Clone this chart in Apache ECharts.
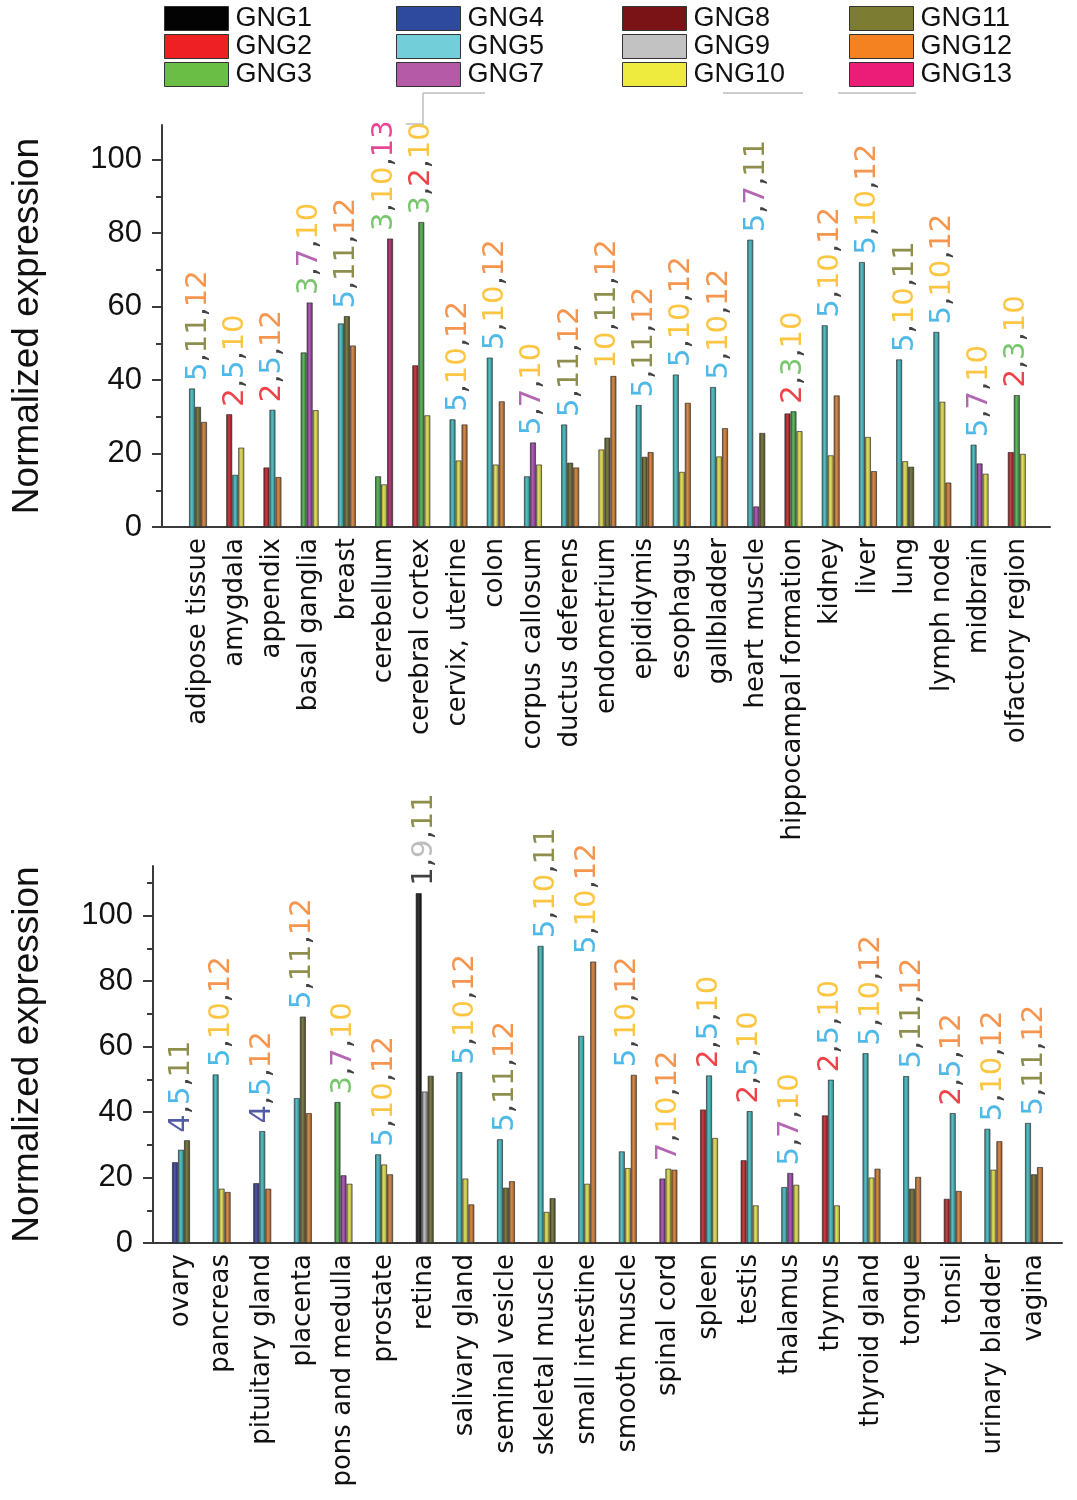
<!DOCTYPE html>
<html><head><meta charset="utf-8">
<script src="https://cdn.jsdelivr.net/npm/echarts@6/dist/echarts.min.js"></script>
<style>html,body{margin:0;padding:0;background:#fff}#c{width:1077px;height:1500px}</style>
</head><body><div id="c"></div>
<script>
// ---------------- DATA ----------------
const topTissues = ['adipose tissue','amygdala','appendix','basal ganglia','breast','cerebellum','cerebral cortex','cervix, uterine','colon','corpus callosum','ductus deferens','endometrium','epididymis','esophagus','gallbladder','heart muscle','hippocampal formation','kidney','liver','lung','lymph node','midbrain','olfactory region'];
const topGenes = [[5,11,12],[2,5,10],[2,5,12],[3,7,10],[5,11,12],[3,10,13],[2,3,10],[5,10,12],[5,10,12],[5,7,10],[5,11,12],[10,11,12],[5,11,12],[5,10,12],[5,10,12],[5,7,11],[2,3,10],[5,10,12],[5,10,12],[5,10,11],[5,10,12],[5,7,10],[2,3,10]];
const topValues = [[37.7,32.7,28.6],[30.7,14.2,21.6],[16.2,31.9,13.6],[47.5,61.1,31.8],[55.4,57.4,49.4],[13.8,11.6,78.5],[44.0,83.0,30.4],[29.3,18.1,27.9],[46.1,17.0,34.2],[13.8,23.0,17.0],[27.9,17.5,16.2],[21.1,24.3,41.1],[33.2,19.1,20.4],[41.5,15.0,33.8],[38.1,19.2,26.9],[78.2,5.6,25.6],[30.9,31.5,26.1],[54.9,19.5,35.8],[72.1,24.5,15.2],[45.6,17.9,16.4],[53.1,34.1,12.1],[22.4,17.3,14.5],[20.4,35.9,19.9]];
const topLabels = ['5,11,12','2,5,10','2,5,12','3,7,10','5,11,12','3,10,13','3,2,10','5,10,12','5,10,12','5,7,10','5,11,12','10,11,12','5,11,12','5,10,12','5,10,12','5,7,11','2,3,10','5,10,12','5,10,12','5,10,11','5,10,12','5,7,10','2,3,10'];

const bottomTissues = ['ovary','pancreas','pituitary gland','placenta','pons and medulla','prostate','retina','salivary gland','seminal vesicle','skeletal muscle','small intestine','smooth muscle','spinal cord','spleen','testis','thalamus','thymus','thyroid gland','tongue','tonsil','urinary bladder','vagina'];
const bottomGenes = [[4,5,11],[5,10,12],[4,5,12],[5,11,12],[3,7,10],[5,10,12],[1,9,11],[5,10,12],[5,11,12],[5,10,11],[5,10,12],[5,10,12],[7,10,12],[2,5,10],[2,5,10],[5,7,10],[2,5,10],[5,10,12],[5,11,12],[2,5,12],[5,10,12],[5,11,12]];
const bottomValues = [[24.7,28.5,31.4],[51.5,16.6,15.6],[18.3,34.2,16.6],[44.3,69.2,39.7],[43.1,20.7,18.1],[27.1,24.0,21.0],[106.9,46.3,51.1],[52.2,19.7,11.8],[31.7,16.9,18.9],[90.8,9.5,13.7],[63.3,18.1,86.0],[28.0,22.9,51.4],[19.7,22.7,22.4],[40.8,51.2,32.1],[25.3,40.3,11.5],[17.1,21.4,17.8],[39.0,49.9,11.5],[58.0,20.0,22.7],[51.0,16.6,20.2],[13.5,39.7,15.9],[34.9,22.4,31.1],[36.7,21.0,23.2]];
const bottomLabels = ['4,5,11','5,10,12','4,5,12','5,11,12','3,7,10','5,10,12','1,9,11','5,10,12','5,11,12','5,10,11','5,10,12','5,10,12','7,10,12','2,5,10','2,5,10','5,7,10','2,5,10','5,10,12','5,11,12','2,5,12','5,10,12','5,11,12'];

const yTickValues = [0,20,40,60,80,100];
const topMinorTicks = [10,30,50,70,90];
const bottomMinorTicks = [10,30,50,70,90,110];
const legendColumns = [['GNG1','GNG2','GNG3'],['GNG4','GNG5','GNG7'],['GNG8','GNG9','GNG10'],['GNG11','GNG12','GNG13']];
const yTitle = 'Normalized expression';

// ---------------- STYLES ----------------
const legendColor = {1:'#030303',2:'#EE2024',3:'#6ABD45',4:'#2E4A9E',5:'#72CFD9',7:'#B45AA6',8:'#7A1315',9:'#C2C2C2',10:'#EFEA3E',11:'#7C7C32',12:'#F58220',13:'#EC1C79'};
const barColor = {1:'#0a0a0a',2:'#B3181E',3:'#3FA33F',4:'#2A3590',5:'#34B0B4',7:'#9C3CA8',9:'#A8A8A8',10:'#D9D63F',11:'#5F5F24',12:'#C87228',13:'#A3195E'};
const labelColor = {1:'#111111',2:'#E8141B',3:'#55B847',4:'#28348F',5:'#22A6E0',7:'#A0409F',9:'#ADADAD',10:'#FDB813',11:'#727320',12:'#F47A20',13:'#E5187A'};

function mix(hex, t){
  const n = parseInt(hex.slice(1),16);
  let r=(n>>16)&255,g=(n>>8)&255,b=n&255;
  const tgt = t>0?255:0, a=Math.abs(t);
  r=Math.round(r+(tgt-r)*a); g=Math.round(g+(tgt-g)*a); b=Math.round(b+(tgt-b)*a);
  return 'rgb('+r+','+g+','+b+')';
}
function grad(c){
  return new echarts.graphic.LinearGradient(0,0,1,0,[
    {offset:0,color:mix(c,-0.35)},{offset:0.45,color:mix(c,0.18)},{offset:1,color:mix(c,-0.3)}]);
}
const rich = {k:{color:'#111',fontFamily:'DejaVu Sans',fontSize:29}};
Object.keys(labelColor).forEach(n=>{ rich['g'+n] = {color:labelColor[n],fontFamily:'DejaVu Sans',fontSize:29}; });
function richLabel(s){ return s.split(',').map(n=>'{g'+n+'|'+n+'}').join('{k|,}'); }

const axisCol = '#3a3a3a';
const grids=[], xAxes=[], yAxes=[], series=[];

function panel(tissues, genes, values, labels, cfg){
  const g0 = grids.length;
  grids.push({left:cfg.frameLeft, top:cfg.top, width:cfg.frameRight-cfg.frameLeft, height:cfg.height, containLabel:false, outerBoundsMode:'none'});
  grids.push({left:cfg.dataLeft, top:cfg.top, width:cfg.dataWidth, height:cfg.height, containLabel:false, outerBoundsMode:'none'});
  const g1 = g0+1;
  const xf = xAxes.length;
  xAxes.push({gridIndex:g0, type:'value', min:0, max:1, axisLine:{show:true,lineStyle:{color:axisCol,width:2}}, axisTick:{show:false}, axisLabel:{show:false}, splitLine:{show:false}});
  xAxes.push({gridIndex:g1, type:'category', data:tissues, axisLine:{show:false}, axisTick:{show:false},
    axisLabel:{rotate:90, interval:0, margin:11, fontFamily:'DejaVu Sans', fontSize:26, color:'#111', hideOverlap:false}});
  const yf = yAxes.length;
  yAxes.push({gridIndex:g0, type:'value', position:'left', offset:0, min:0, max:cfg.max,
    axisLine:{show:true,lineStyle:{color:axisCol,width:2}},
    axisTick:{show:true, customValues:yTickValues, length:10, lineStyle:{color:axisCol,width:2}},
    axisLabel:{customValues:yTickValues, margin:20, fontFamily:'Liberation Sans', fontSize:31, color:'#111'},
    splitLine:{show:false},
    name:yTitle, nameLocation:'middle', nameGap:cfg.nameGap,
    nameTextStyle:{fontFamily:'Liberation Sans', fontSize:37, color:'#111'}});
  yAxes.push({gridIndex:g0, type:'value', position:'left', offset:0, min:0, max:cfg.max,
    axisLine:{show:false}, axisTick:{show:true, customValues:cfg.minor, length:6, lineStyle:{color:axisCol,width:2}},
    axisLabel:{show:false}, splitLine:{show:false}});
  yAxes.push({gridIndex:g1, type:'value', min:0, max:cfg.max, show:false});
  const xd = xf+1, yd = yf+2;
  for(let k=0;k<3;k++){
    series.push({type:'bar', xAxisIndex:xd, yAxisIndex:yd, barWidth:6, barGap:'0%', silent:true,
      itemStyle:{borderColor:'rgba(45,45,45,0.85)', borderWidth:0.8},
      data: values.map((v,i)=>({value:v[k], itemStyle:{color:grad(barColor[genes[i][k]])}}))});
  }
  series.push({type:'scatter', xAxisIndex:xd, yAxisIndex:yd, symbolSize:1, silent:true, z:10,
    itemStyle:{color:'rgba(0,0,0,0)'},
    data: values.map(v=>Math.max.apply(null,v)),
    label:{show:true, position:'top', distance:7, rotate:90, align:'left', verticalAlign:'middle',
      formatter:p=>richLabel(labels[p.dataIndex]), rich:rich}});
  return {xd, yd};
}

const p1 = panel(topTissues, topGenes, topValues, topLabels,
  {frameLeft:162, frameRight:1050, dataLeft:179.4, dataWidth:856, top:125, height:402, max:109.4, minor:topMinorTicks, nameGap:116});
panel(bottomTissues, bottomGenes, bottomValues, bottomLabels,
  {frameLeft:153, frameRight:1062, dataLeft:160.7, dataWidth:893.6, top:866, height:377, max:115.2, minor:bottomMinorTicks, nameGap:107});

// legend-only series
[1,2,3,4,5,7,8,9,10,11,12,13].forEach(n=>{
  series.push({type:'scatter', name:'GNG'+n, xAxisIndex:p1.xd, yAxisIndex:p1.yd, data:[], itemStyle:{color:legendColor[n], opacity:1}});
});
const legendLeft = [164,396,622,849];
const legends = legendColumns.map((col,i)=>({
  data:col, left:legendLeft[i], top:5, orient:'vertical', icon:'rect', itemWidth:64, itemHeight:24, itemGap:1,
  selectedMode:false, padding:0,
  itemStyle:{borderColor:'#333',borderWidth:1, opacity:1},
  textStyle:{fontFamily:'Liberation Sans', fontSize:27, color:'#111', lineHeight:24, padding:[0,0,0,2]}
}));

const chart = echarts.init(document.getElementById('c'), null, {renderer:'canvas'});
chart.setOption({
  animation:false,
  backgroundColor:'#fff',
  grid:grids, xAxis:xAxes, yAxis:yAxes, series:series, legend:legends,
  graphic:[
    {type:'line', shape:{x1:423,y1:93,x2:485,y2:93}, style:{stroke:'#bdbdbd',lineWidth:1.5}},
    {type:'line', shape:{x1:423,y1:93,x2:423,y2:125}, style:{stroke:'#bdbdbd',lineWidth:1.5}},
    {type:'line', shape:{x1:406,y1:124,x2:423,y2:124}, style:{stroke:'#bdbdbd',lineWidth:1.5}},
    {type:'line', shape:{x1:723,y1:93,x2:803,y2:93}, style:{stroke:'#bdbdbd',lineWidth:1.5}},
    {type:'line', shape:{x1:838,y1:93,x2:916,y2:93}, style:{stroke:'#bdbdbd',lineWidth:1.5}}
  ]
});
</script></body></html>
